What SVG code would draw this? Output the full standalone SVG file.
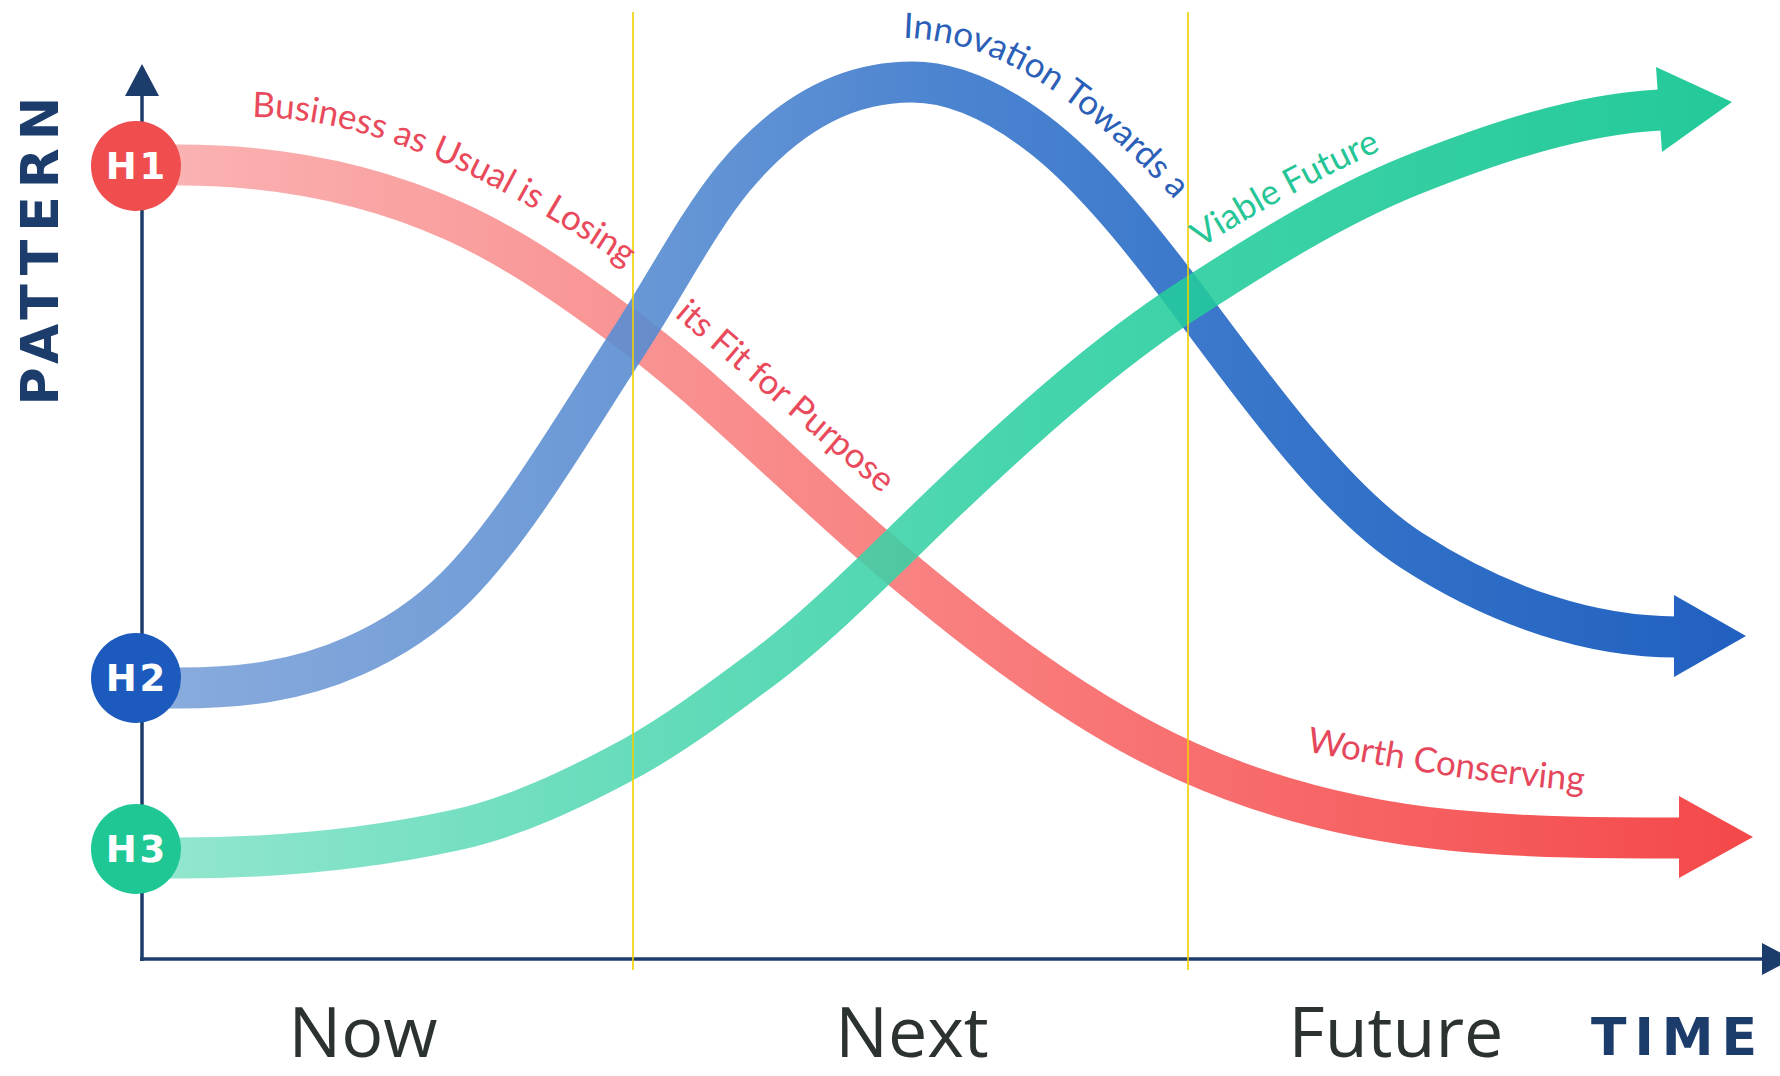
<svg xmlns="http://www.w3.org/2000/svg" width="1780" height="1076" viewBox="0 0 1780 1076">
<style>
.band{fill:none;stroke-width:41}
.lbl{font-family:Lato,"Liberation Sans",sans-serif;font-size:35px}
.hlbl{font-family:"DejaVu Sans",sans-serif;font-weight:bold;font-size:37px;fill:#ffffff;text-anchor:middle;letter-spacing:3px}
.axislbl{font-family:"DejaVu Sans",sans-serif;font-weight:bold;font-size:52px;fill:#1c3c6c;letter-spacing:8px}
.phase{font-family:"Open Sans","Liberation Sans",sans-serif;font-size:70px;fill:#2b3230;text-anchor:middle}
.axis{stroke:#1c3c6c;stroke-width:3.5;fill:none}
.axhead{fill:#1c3c6c}
.guide{stroke:#f2d000;stroke-width:1.6}
</style>
<defs>
<linearGradient id="gRed" gradientUnits="userSpaceOnUse" x1="150" y1="0" x2="1750" y2="0">
<stop offset="0" stop-color="#fbb4b4"/><stop offset="0.3" stop-color="#f99393"/><stop offset="0.55" stop-color="#f97a7a"/><stop offset="1" stop-color="#f4484a"/>
</linearGradient>
<linearGradient id="gBlue" gradientUnits="userSpaceOnUse" x1="150" y1="0" x2="1750" y2="0">
<stop offset="0" stop-color="#7da2d9"/><stop offset="0.3" stop-color="#598dd1"/><stop offset="0.5" stop-color="#3876cb"/><stop offset="0.75" stop-color="#1b62c2"/><stop offset="1" stop-color="#0a50ba"/>
</linearGradient>
<linearGradient id="gGreen" gradientUnits="userSpaceOnUse" x1="150" y1="0" x2="1750" y2="0">
<stop offset="0" stop-color="#84e3c8"/><stop offset="0.3" stop-color="#52d7b2"/><stop offset="0.55" stop-color="#2ccfa1"/><stop offset="1" stop-color="#05c28c"/>
</linearGradient>
<path id="p1" d="M 240 117 C 360 115, 480 165, 660 290"/>
<path id="p2" d="M 674 316 L 908 516"/>
<path id="p3" d="M 880 38 C 990 33, 1080 85, 1235 268"/>
<path id="p4" d="M 1173 266 C 1243 219, 1323 174, 1423 132"/>
<path id="p5" d="M 1290 748 C 1400 770, 1500 786, 1620 794"/>
</defs>
<rect x="0" y="0" width="1780" height="1076" fill="#ffffff"/>

<g id="axes">
<line class="axis" x1="142" y1="961" x2="142" y2="90"/>
<polygon class="axhead" points="142,64 125,96 159,96"/>
<line class="axis" x1="140" y1="959" x2="1766" y2="959"/>
<polygon class="axhead" points="1762,943 1792,959 1762,975"/>
<text class="axislbl" transform="translate(58,247) rotate(-90)" text-anchor="middle">PATTERN</text>
<text class="axislbl" x="1591" y="1055">TIME</text>
</g>

<g id="connectors">
<g id="h1-arrow">
<path class="band" stroke="url(#gRed)" d="M 150 165 L 180 165 C 271 165, 363 180, 454 221 C 514 248, 573 289, 633 334 C 717 397, 802 485, 886 556 C 987 642, 1087 717, 1188 762 C 1275 801, 1363 821, 1450 830 C 1530 838, 1610 838, 1682 838"/>
<polygon fill="url(#gRed)" points="1679,796 1753,837 1679,878"/>
</g>
<g id="h2-arrow" opacity="0.9">
<path class="band" stroke="url(#gBlue)" d="M 150 688 L 180 688 C 238 688, 296 682, 354 656 C 388 641, 422 621, 456 587 C 515 528, 574 426, 633 335 C 667 282, 700 219, 734 178 C 793 107, 853 82, 912 82 C 957 82, 1001 104, 1046 140 C 1093 178, 1141 237, 1188 300 C 1262 400, 1337 502, 1411 550 C 1502 609, 1594 637, 1677 637"/>
<polygon fill="url(#gBlue)" points="1674,595 1746,636 1674,677"/>
</g>
<g id="h3-arrow" opacity="0.88">
<path class="band" stroke="url(#gGreen)" d="M 150 858 L 180 858 C 272 858, 364 850, 456 830 C 515 817, 574 789, 633 757 C 676 733, 719 701, 762 669 C 825 622, 887 557, 950 497 C 1029 422, 1109 351, 1188 300 C 1262 252, 1336 206, 1410 176 C 1495 142, 1580 114, 1660 110"/>
<polygon fill="url(#gGreen)" points="1656,67 1732,102 1662,152"/>
</g>
</g>

<g id="guides">
<line class="guide" x1="633" y1="12" x2="633" y2="970"/>
<line class="guide" x1="1188" y1="12" x2="1188" y2="970"/>
</g>

<g id="curve-labels">
<text class="lbl" fill="#e94a5b"><textPath href="#p1" startOffset="12">Business as Usual is Losing</textPath></text>
<text class="lbl" fill="#e94a5b"><textPath href="#p2" startOffset="0">its Fit for Purpose</textPath></text>
<text class="lbl" fill="#2c5fb8"><textPath href="#p3" startOffset="23">Innovation Towards a</textPath></text>
<text class="lbl" fill="#25c596"><textPath href="#p4" startOffset="33">Viable Future</textPath></text>
<text class="lbl" fill="#e5475c"><textPath href="#p5" startOffset="16">Worth Conserving</textPath></text>
</g>

<g id="H1">
<circle cx="136" cy="166" r="45" fill="#f04d4f"/>
<text class="hlbl" x="137" y="179">H1</text>
</g>
<g id="H2">
<circle cx="136" cy="678" r="45" fill="#1c5bbd"/>
<text class="hlbl" x="137" y="691">H2</text>
</g>
<g id="H3">
<circle cx="136" cy="849" r="45" fill="#1fc794"/>
<text class="hlbl" x="137" y="862">H3</text>
</g>

<g id="phases">
<text class="phase" x="363" y="1057">Now</text>
<text class="phase" x="912" y="1057">Next</text>
<text class="phase" x="1396" y="1057">Future</text>
</g>
</svg>
